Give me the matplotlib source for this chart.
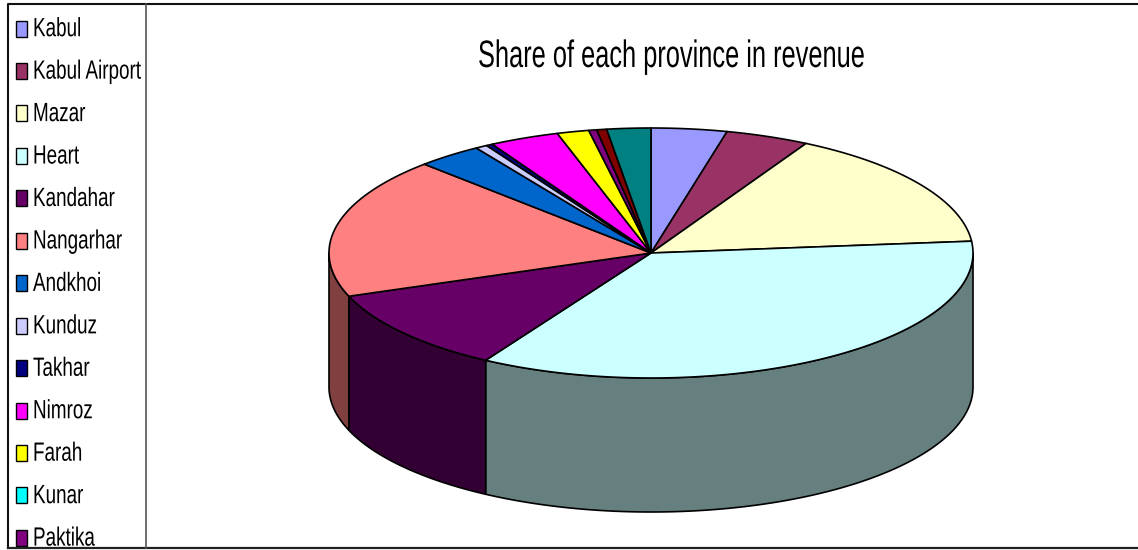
#!/usr/bin/env python3
# Pseudo-3D pie of province revenue shares, legend panel on the left

import numpy as np
import matplotlib
matplotlib.use('Agg')
import matplotlib.pyplot as plt
from matplotlib.patches import Polygon, Rectangle
from matplotlib.patheffects import AbstractPathEffect
from matplotlib.transforms import Affine2D

plt.rcParams['font.family'] = ['Liberation Sans', 'DejaVu Sans']

# legend names (the list runs past the bottom of the panel)
provinces = ['Kabul', 'Kabul Airport', 'Mazar', 'Heart', 'Kandahar', 'Nangarhar',
             'Andkhoi', 'Kunduz', 'Takhar', 'Nimroz', 'Farah', 'Kunar', 'Paktika']

# share of revenue in %, last two slices have no visible legend entry
shares = [3.8, 4.2, 15.5, 35.1, 10.8, 18.2, 3.3, 0.6, 0.33, 3.5, 1.6, 0.0, 0.4, 0.5, 2.2]

colors = ['#9999FF', '#993366', '#FFFFCC', '#CCFFFF', '#660066', '#FF8080',
          '#0066CC', '#CCCCFF', '#000080', '#FF00FF', '#FFFF00', '#00FFFF',
          '#800080', '#800000', '#008080']

# pie geometry in pixels
cx, cy = 651, 253
rx, ry = 322, 125
depth = 134


class Squeeze(AbstractPathEffect):
    # condenses glyphs horizontally about the text anchor, no narrow font installed
    def __init__(self, sx):
        super().__init__()
        self.sx = sx

    def draw_path(self, renderer, gc, tpath, affine, rgbFace=None):
        m = affine.get_matrix()
        x0, y0 = m[0, 2], m[1, 2]
        squeeze = Affine2D().translate(-x0, -y0).scale(self.sx, 1).translate(x0, y0)
        renderer.draw_path(gc, tpath, affine + squeeze, rgbFace)


def rim(t):
    # t in degrees, clockwise from the top of the ellipse
    t = np.radians(t)
    return cx + rx * np.sin(t), cy - ry * np.cos(t)


def darker(hexcol):
    return tuple(0.5 * c for c in matplotlib.colors.to_rgb(hexcol))


fig = plt.figure(figsize=(11.38, 5.5), dpi=100)
ax = fig.add_axes([0, 0, 1, 1])
ax.set_xlim(0, 1138)
ax.set_ylim(550, 0)
ax.axis('off')

# slice boundaries in degrees
edges = np.concatenate([[0], np.cumsum(shares)]) / np.sum(shares) * 360

# side wall, only the front half of the ellipse shows
for i, col in enumerate(colors):
    t0, t1 = max(edges[i], 90), min(edges[i + 1], 270)
    if t1 <= t0:
        continue
    tt = np.linspace(t0, t1, 120)
    x, y = rim(tt)
    pts = np.r_[np.c_[x, y], np.c_[x[::-1], y[::-1] + depth]]
    ax.add_patch(Polygon(pts, closed=True, fc=darker(col), ec='black', lw=1.2, joinstyle='round'))

# top face
for i, col in enumerate(colors):
    if shares[i] == 0:
        continue
    tt = np.linspace(edges[i], edges[i + 1], 120)
    x, y = rim(tt)
    pts = np.r_[[[cx, cy]], np.c_[x, y]]
    ax.add_patch(Polygon(pts, closed=True, fc=col, ec='black', lw=1.2, joinstyle='round'))

title = ax.text(478, 67, 'Share of each province in revenue', ha='left', va='baseline',
                fontsize=27.5, color='black')
title.set_path_effects([Squeeze(0.665)])

# frame and legend panel
ax.plot([8, 8, 1138], [548, 4, 4], color='#111111', lw=1.5)
ax.plot([8, 1138], [548, 548], color='#222222', lw=1.6)
ax.plot([146, 146], [4, 548], color='#555555', lw=1.2)

clip = Rectangle((9, 5), 137, 542, transform=ax.transData)
for i, name in enumerate(provinces):
    yc = 28.5 + 42.45 * i
    ax.add_patch(Rectangle((16, yc - 8), 11, 16, fc=colors[i], ec='black', lw=1.0))
    t = ax.text(33, yc + 7.7, name, ha='left', va='baseline', fontsize=19, color='black')
    t.set_clip_path(clip)
    t.set_path_effects([Squeeze(0.715)])

fig.savefig('out.png', dpi=100)
plt.close()
